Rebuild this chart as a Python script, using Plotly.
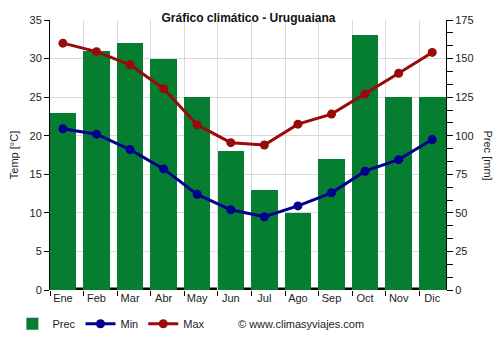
import plotly.graph_objects as go

months = ["Ene", "Feb", "Mar", "Abr", "May", "Jun", "Jul", "Ago", "Sep", "Oct", "Nov", "Dic"]
prec = [115, 155, 160, 150, 125, 90, 65, 50, 85, 165, 125, 125]
tmin = [20.9, 20.2, 18.2, 15.7, 12.4, 10.4, 9.5, 10.9, 12.6, 15.4, 16.9, 19.5]
tmax = [32.0, 30.9, 29.2, 26.1, 21.4, 19.1, 18.8, 21.5, 22.8, 25.4, 28.1, 30.8]

xs = list(range(len(months)))
FONT = "Liberation Sans, Arial, sans-serif"
GREEN = "#057e32"
BLUE = "#00008f"
RED = "#990a0a"
XR = [-0.385, 11.41]

fig = go.Figure()
fig.add_trace(go.Bar(x=xs, y=prec, name="Prec", marker=dict(color=GREEN, line=dict(width=0)),
                     width=0.79, yaxis="y"))
fig.add_trace(go.Scatter(x=xs, y=tmin, name="Min", mode="lines+markers", yaxis="y2",
                         line=dict(color=BLUE, width=3), marker=dict(size=9, color=BLUE)))
fig.add_trace(go.Scatter(x=xs, y=tmax, name="Max", mode="lines+markers", yaxis="y2",
                         line=dict(color=RED, width=3), marker=dict(size=9, color=RED)))
# invisible trace to activate the grid axis
fig.add_trace(go.Scatter(x=[0], y=[0], xaxis="x2", yaxis="y", mode="markers",
                         marker=dict(opacity=0), showlegend=False, hoverinfo="skip"))

fig.update_layout(
    width=500, height=350,
    margin=dict(l=49, r=54, t=20, b=58),
    paper_bgcolor="white", plot_bgcolor="white",
    font=dict(family=FONT, size=11, color="#222"),
    title=dict(text="<b>Gráfico climático - Uruguaiana</b>", x=0.497, xanchor="center",
               y=0.95, yanchor="middle", font=dict(size=12, color="#111", family=FONT)),
    bargap=0,
    xaxis=dict(range=XR, tickmode="array", tickvals=xs, ticktext=months, showgrid=False,
               ticks="", showline=False, zeroline=False, tickfont=dict(size=11)),
    xaxis2=dict(range=XR, overlaying="x", side="bottom", tick0=0.615, dtick=1,
                showgrid=True, gridcolor="#d9d9d9", gridwidth=1, ticks="outside", ticklen=5,
                tickcolor="#000", showticklabels=False, showline=False, zeroline=False,
                layer="below traces"),
    yaxis=dict(range=[0, 175], dtick=25, side="right", showgrid=True, gridcolor="#d9d9d9",
               ticks="outside", ticklen=6, tickcolor="#000", showline=True, linecolor="#000",
               linewidth=1, zeroline=False,
               minor=dict(dtick=25 / 3, ticks="outside", ticklen=6, tickcolor="#000", showgrid=False)),
    yaxis2=dict(range=[0, 35], dtick=5, overlaying="y", side="left", showgrid=False,
                ticks="outside", ticklen=5, tickcolor="#000", showline=True, linecolor="#000",
                linewidth=1, zeroline=False,
                title=dict(text="Temp [°C]", standoff=8, font=dict(size=11))),
    legend=dict(orientation="h", x=-0.095, xanchor="left", y=-0.125, yanchor="middle",
                font=dict(size=11, color="#222"), traceorder="normal", itemwidth=30),
    showlegend=True,
)

fig.add_shape(type="rect", xref="paper", yref="paper", x0=0, x1=1, y0=0, y1=0.009,
              line=dict(width=0), fillcolor="#000", layer="below")

fig.add_annotation(text="Prec [mm]", xref="paper", yref="paper", x=1.125, y=0.5,
                   textangle=90, showarrow=False, font=dict(size=11, color="#222"))
fig.add_annotation(text="© www.climasyviajes.com", xref="paper", yref="paper",
                   x=0.47, y=-0.125, xanchor="left", yanchor="middle", showarrow=False,
                   font=dict(size=11, color="#222"))

fig.write_html("out.html")
